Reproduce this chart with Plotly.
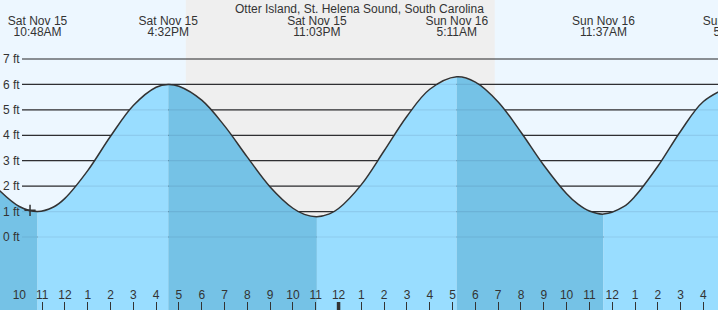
import plotly.graph_objects as go

# ---- data (hours since Sat Nov 15 00:00, heights in ft) ----
times = [9, 10, 10.8, 11.5, 12, 13, 14, 15, 16, 16.533, 17, 18, 19, 20, 21, 22, 22.5, 23.05,
         23.6, 24, 25, 26, 27, 28, 29.183, 30, 31, 32, 33, 34, 34.5, 35, 35.617, 36.5, 37, 38,
         39, 40, 41.35]
heights = [1.94, 1.20, 1.00, 1.18, 1.52, 2.61, 3.96, 5.17, 5.89, 6.00, 5.93, 5.38, 4.37,
           3.14, 1.97, 1.13, 0.89, 0.80, 0.91, 1.12, 2.06, 3.39, 4.75, 5.81, 6.30, 6.09, 5.31,
           4.12, 2.82, 1.70, 1.29, 1.02, 0.90, 1.19, 1.60, 2.78, 4.16, 5.33, 6.00]

event_times = [10.8, 16.533, 23.05, 29.183, 35.617, 41.35]
event_dates = ["Sat Nov 15", "Sat Nov 15", "Sat Nov 15", "Sun Nov 16", "Sun Nov 16", "Sun Nov 16"]
event_clock = ["10:48AM", "4:32PM", "11:03PM", "5:11AM", "11:37AM", "5:21PM"]

sunset = 17.30
sunrise = 30.85
now_time = 10.47
now_height = 1.05

hour_ticks = list(range(10, 41))
hour_labels = ["10", "11", "12", "1", "2", "3", "4", "5", "6", "7", "8", "9", "10", "11",
               "12", "1", "2", "3", "4", "5", "6", "7", "8", "9", "10", "11",
               "12", "1", "2", "3", "4"]
midnight = 24

ft_ticks = [0, 1, 2, 3, 4, 5, 6, 7]
ft_labels = ["0 ft", "1 ft", "2 ft", "3 ft", "4 ft", "5 ft", "6 ft", "7 ft"]

title = "Otter Island, St. Helena Sound, South Carolina"

# ---- styles ----
DAY_BG = "#EDF7FF"
NIGHT_BG = "#EFEFEF"
WATER_RISE = "#99DDFF"
WATER_FALL = "#75C2E6"
INK = "#333333"
FONT = "Liberation Sans, Arial, sans-serif"

XR = [9.153, 40.64]
YR = [-2.871, 9.320]

fig = go.Figure()

# water fills, split at each high/low
bounds = [times[0]] + [e for e in event_times if times[0] < e < times[-1]] + [times[-1]]
for a, b in zip(bounds[:-1], bounds[1:]):
    seg = [(t, h) for t, h in zip(times, heights) if a <= t <= b]
    falling = seg[-1][1] < seg[0][1]
    fig.add_trace(go.Scatter(x=[a, b], y=[YR[0] - 1, YR[0] - 1], mode="lines",
                             line=dict(width=0), showlegend=False, hoverinfo="skip"))
    fig.add_trace(go.Scatter(x=[p[0] for p in seg], y=[p[1] for p in seg], mode="lines",
                             line=dict(width=0, shape="spline"), fill="tonexty",
                             fillcolor=WATER_FALL if falling else WATER_RISE,
                             showlegend=False, hoverinfo="skip"))

# tide curve
fig.add_trace(go.Scatter(x=times, y=heights, mode="lines",
                         line=dict(color=INK, width=1.5, shape="spline"),
                         showlegend=False, hoverinfo="skip"))

# current-time marker
fig.add_trace(go.Scatter(x=[now_time], y=[now_height], mode="markers",
                         marker=dict(symbol="cross-thin", size=8,
                                     line=dict(color=INK, width=1.5)),
                         showlegend=False, hoverinfo="skip"))

# event labels at top
fig.add_trace(go.Scatter(x=event_times, y=[8.47] * len(event_times), mode="text",
                         text=event_dates, textposition="middle center",
                         textfont=dict(family=FONT, size=12, color=INK),
                         showlegend=False, hoverinfo="skip"))
fig.add_trace(go.Scatter(x=event_times, y=[8.01] * len(event_times), mode="text",
                         text=event_clock, textposition="middle center",
                         textfont=dict(family=FONT, size=12, color=INK),
                         showlegend=False, hoverinfo="skip"))

# hour labels at bottom
fig.add_trace(go.Scatter(x=hour_ticks, y=[-2.31] * len(hour_ticks), mode="text",
                         text=hour_labels, textposition="middle center",
                         textfont=dict(family=FONT, size=12, color=INK),
                         showlegend=False, hoverinfo="skip"))

shapes = [dict(type="rect", xref="x", yref="paper", x0=sunset, x1=sunrise, y0=0, y1=1,
               fillcolor=NIGHT_BG, line=dict(width=0), layer="below")]
for v in ft_ticks:
    shapes.append(dict(type="line", xref="paper", yref="y", x0=22 / 718, x1=1, y0=v, y1=v,
                       line=dict(color=INK, width=1.2), layer="below"))
    shapes.append(dict(type="line", xref="paper", yref="y", x0=22 / 718, x1=1, y0=v, y1=v,
                       line=dict(color="rgba(0,0,40,0.08)", width=1.2), layer="above"))
shapes.append(dict(type="line", xref="x", yref="paper", x0=midnight, x1=midnight,
                   y0=0, y1=8 / 310, line=dict(color=INK, width=3.5), layer="above"))

fig.update_layout(
    width=718, height=310, margin=dict(l=0, r=0, t=0, b=0),
    paper_bgcolor=DAY_BG, plot_bgcolor=DAY_BG,
    shapes=shapes,
    annotations=[dict(text=title, xref="paper", yref="paper", x=0.5, y=1 - 8.5 / 310,
                      xanchor="center", yanchor="middle", showarrow=False,
                      font=dict(family=FONT, size=12, color=INK))],
    xaxis=dict(range=XR, showgrid=False, zeroline=False, showline=False,
               tickvals=hour_ticks, ticks="inside", ticklen=8, tickwidth=1,
               tickcolor=INK, showticklabels=False, fixedrange=True),
    yaxis=dict(range=YR, showgrid=False, zeroline=False, showline=False,
               tickvals=ft_ticks, ticktext=ft_labels, ticks="",
               ticklabelposition="inside", tickfont=dict(family=FONT, size=12, color=INK),
               fixedrange=True),
    showlegend=False, hovermode=False,
)

fig.write_html("out.html")
